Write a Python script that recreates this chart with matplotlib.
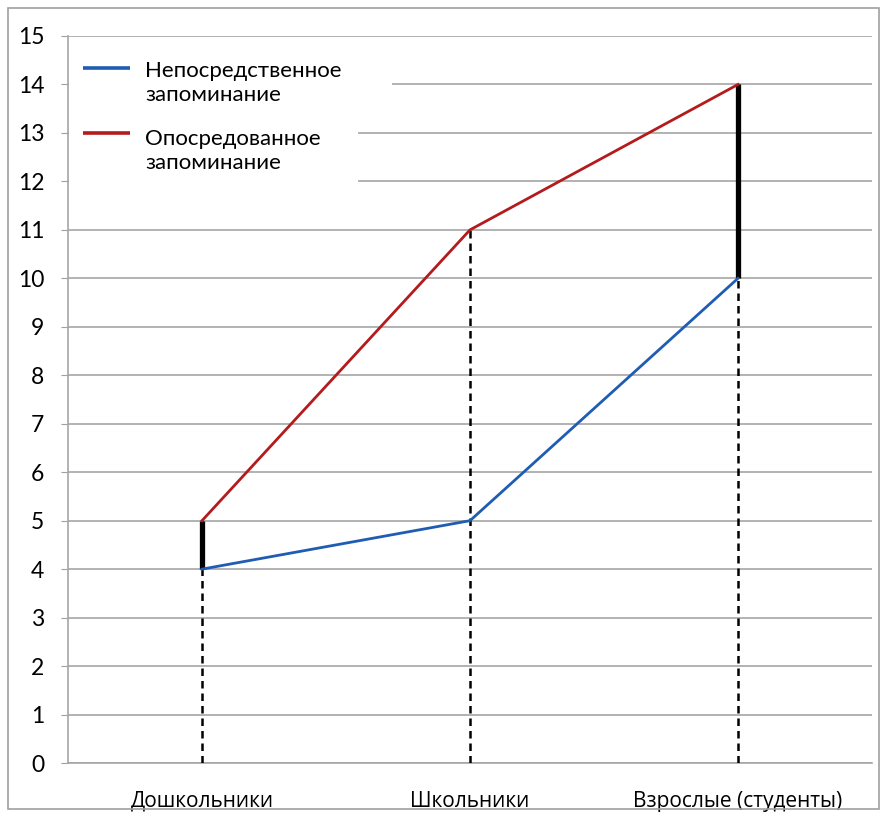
import matplotlib.pyplot as plt
from matplotlib.patches import Rectangle

categories = ["Дошкольники", "Школьники", "Взрослые (студенты)"]
direct = [4, 5, 10]
mediated = [5, 11, 14]
series_labels = ["Непосредственное\nзапоминание", "Опосредованное\nзапоминание"]
series_colors = ["#1f5cb3", "#b31b1d"]
y_ticks = list(range(0, 16))

plt.rcParams["font.family"] = ["Lato", "DejaVu Sans"]

fig = plt.figure(figsize=(8.83, 8.16), dpi=100)
ax = fig.add_axes([68 / 883, 53 / 816, 804 / 883, 727 / 816])

# frame around the whole picture
fig.patches.append(Rectangle((8 / 883, 7 / 816), 871 / 883, 801 / 816,
                             transform=fig.transFigure, fill=False,
                             edgecolor="#a0a0a0", linewidth=1.2))

x = list(range(len(categories)))

# dashed drop lines from the axis to the upper point
for xi, d, m in zip(x, direct, mediated):
    ax.plot([xi, xi], [0, max(d, m)], color="black", linestyle=(0, (3, 2)),
            linewidth=1.8, zorder=3)

# thick gap between series at first and last group
for xi in (0, 2):
    ax.plot([xi, xi], [direct[xi], mediated[xi]], color="black",
            linewidth=3.8, solid_capstyle="butt", zorder=4)

ax.plot(x, direct, color=series_colors[0], linewidth=2.0, zorder=5)
ax.plot(x, mediated, color=series_colors[1], linewidth=2.0, zorder=5)

ax.set_xlim(-0.5, 2.5)
ax.set_ylim(0, 15)
ax.set_yticks(y_ticks)
ax.set_xticks(x)
ax.set_xticklabels(categories, fontsize=15, family=["Open Sans", "DejaVu Sans"])
ax.tick_params(axis="y", labelsize=16.5, length=5, color="#a0a0a0", pad=12)
ax.tick_params(axis="x", length=0, pad=20)
ax.grid(axis="y", color="#a6a6a6", linewidth=1.2)
ax.set_axisbelow(True)
for side in ("top", "right"):
    ax.spines[side].set_visible(False)
for side in ("left", "bottom"):
    ax.spines[side].set_color("#a6a6a6")
    ax.spines[side].set_linewidth(1.2)

# legend drawn by hand: white boxes, handle aligned with the first text line
ax.add_patch(Rectangle((-0.497, 13.43), 1.205, 1.38, facecolor="white",
                       edgecolor="none", zorder=2))
ax.add_patch(Rectangle((-0.497, 11.82), 1.08, 1.62, facecolor="white",
                       edgecolor="none", zorder=2))
handle_y = [14.34, 13.0]
text_y = [14.02, 12.62]
for label, color, hy, ty in zip(series_labels, series_colors, handle_y, text_y):
    ax.plot([-0.444, -0.269], [hy, hy], color=color, linewidth=2.6, zorder=6,
            solid_capstyle="butt")
    ax.text(-0.213, ty, label, fontsize=16, va="center", ha="left",
            linespacing=1.25, zorder=6)

fig.savefig("out.png", dpi=100)
